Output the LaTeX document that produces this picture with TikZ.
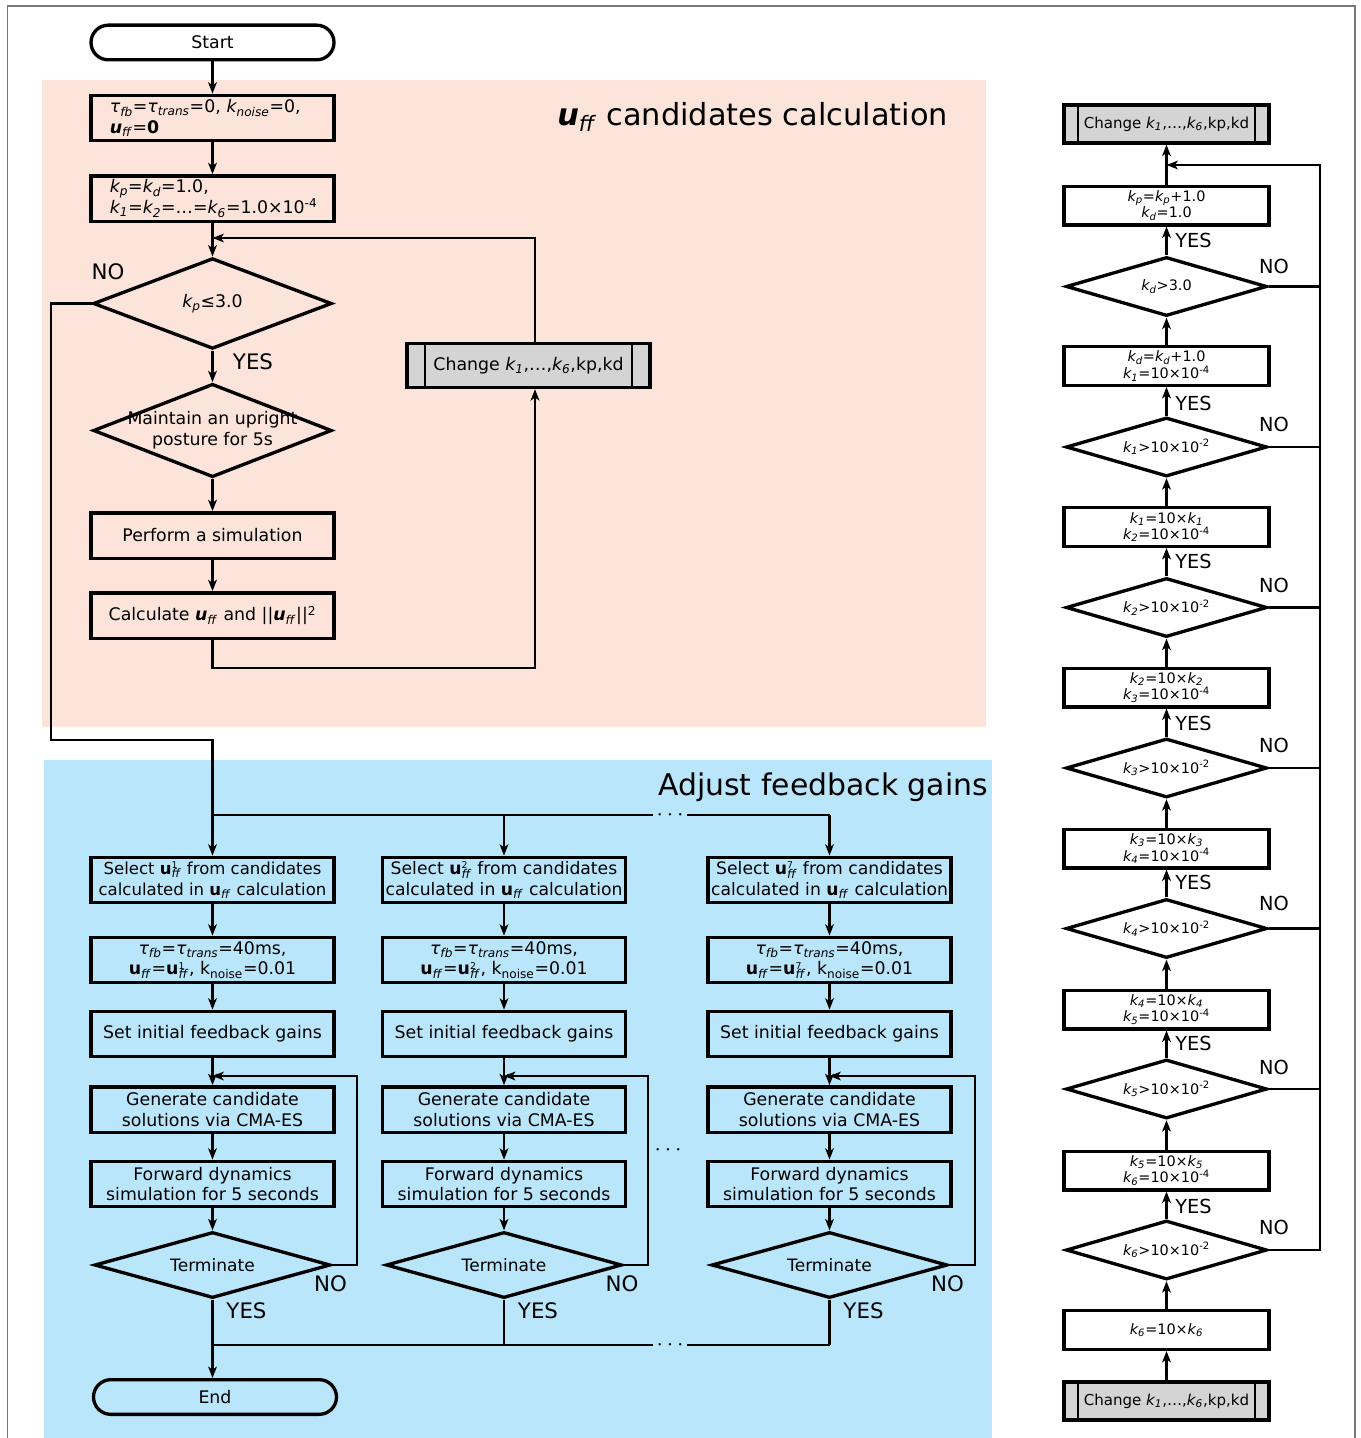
\documentclass[tikz,border=0pt]{standalone}
\usepackage{fontspec}
\setmainfont{DejaVu Sans}
\usetikzlibrary{shapes.geometric,arrows.meta}
\definecolor{pinkbg}{RGB}{252,228,218}
\definecolor{bluebg}{RGB}{186,230,251}
\definecolor{grayfill}{RGB}{212,212,212}
\definecolor{framegray}{RGB}{120,120,120}
\newcommand\kv[1]{\textit{k\textsubscript{#1}}}
\newcommand\tfb{\textit{τ\textsubscript{fb}}}
\newcommand\ttrans{\textit{τ\textsubscript{trans}}}
\newcommand\uffbi{\textbf{\textit{u}}\textsubscript{\textit{ff}}}
\newcommand\uffb{\textbf{u}\textsubscript{\textit{ff}}}
\newcommand\uffn[1]{\textbf{u}\rlap{\textsuperscript{\scriptsize #1}}\textsubscript{\textit{ff}}}
\begin{document}
\begin{tikzpicture}[x=0.75pt,y=-0.75pt,
  every node/.style={font=\fontsize{13}{15.5}\selectfont},
  box/.style={draw, line width=2.5pt, minimum width=182.25pt, minimum height=34pt, inner sep=1pt, align=center},
  pill/.style={draw, line width=2.5pt, rounded corners=13pt, minimum width=182.25pt, minimum height=26pt},
  dia/.style={draw, diamond, line width=2.5pt, inner sep=0pt, aspect=2.6, minimum width=179pt, minimum height=68pt},
  tdia/.style={draw, diamond, line width=2.5pt, inner sep=0pt, aspect=3.6, minimum width=177pt, minimum height=49.5pt, font=\fontsize{12.8}{14}\selectfont},
  proc/.style={draw, line width=2.5pt, fill=grayfill, minimum width=182.25pt, minimum height=33pt,
    path picture={\draw[line width=2.2pt] ([xshift=#1]path picture bounding box.north west) -- ([xshift=#1]path picture bounding box.south west)
      ([xshift=-#1]path picture bounding box.north east) -- ([xshift=-#1]path picture bounding box.south east);}},
  rbox/.style={draw, line width=2.5pt, minimum width=153.75pt, minimum height=29pt, inner sep=1pt, align=center, font=\fontsize{10.8}{11}\selectfont},
  rdia/.style={draw, diamond, line width=2.5pt, inner sep=0pt, aspect=3.4, minimum width=150.75pt, minimum height=44.25pt, font=\fontsize{10.8}{12}\selectfont},
  conn/.style={line width=1.6pt},
  arr/.style={conn, -{Stealth[length=8.5pt,width=6.5pt,inset=2.2pt]}},
  yn/.style={font=\fontsize{16}{18}\selectfont, inner sep=0pt},
  ryn/.style={font=\fontsize{14.5}{16}\selectfont, inner sep=0pt},
  dots/.style={font=\fontsize{16}{18}\selectfont, inner xsep=3pt, inner ysep=0pt},
  title/.style={font=\fontsize{22.8}{26}\selectfont, inner sep=0pt, anchor=west}
]
\useasboundingbox (0,0) rectangle (1360,1438);
% backgrounds and frame
\fill[pinkbg] (42,80) rectangle (986,727);
\fill[bluebg] (44,760) rectangle (992,1450);
\draw[framegray, line width=1pt] (7.5,1450) -- (7.5,6) -- (1355,6) -- (1355,1450);

\node[title] (ttl1) at (557,117) {\uffbi{} candidates calculation};
\node[title, font=\fontsize{22.4}{26}\selectfont] (ttl2) at (658,787) {Adjust feedback gains};

% ---------- top section ----------
\node[pill] (start) at (212.5,42.5) {Start};
\node[box, text width=154pt, align=left, inner xsep=14pt] (b1) at (212.5,118) {\tfb=\ttrans=0, \kv{noise}=0,\\\uffbi=\textbf{0}};
\node[box, text width=154pt, align=left, inner xsep=14pt] (b2) at (212.5,198.5) {\kv{p}=\kv{d}=1.0,\\\kv{1}=\kv{2}=…=\kv{6}=1.0×10\textsuperscript{-4}};
\node[dia] (d1) at (212.5,303.5) {\kv{p}≤3.0};
\node[dia, minimum height=70pt, label={[name=d2t, align=center]center:Maintain an upright\\posture for 5s}] (d2) at (212.5,430.5) {};
\node[box] (b3) at (212.5,535.5) {Perform a simulation};
\node[box] (b4) at (212.5,615.5) {Calculate \uffbi{} and ||\uffbi||\textsuperscript{2}};
\node[proc=13.5pt] (chg) at (528.5,365.5) {Change \kv{1},…,\kv{6},kp,kd};
\node[yn] (no0) at (108,272) {NO};
\node[yn] (yes0) at (253,362) {YES};

\coordinate (lpb) at (535,668);
\coordinate (j1) at (212.5,238);
\coordinate (n1) at (51,740);
\coordinate (ytop) at (0,815);
\coordinate (ybot) at (0,1345);

\draw[arr] (start) -- (b1);
\draw[arr] (b1) -- (b2);
\draw[arr] (b2) -- (d1);
\draw[arr] (d1) -- (d2);
\draw[arr] (d2) -- (b3);
\draw[arr] (b3) -- (b4);
\draw[arr] (b4.south) |- (lpb) -- (chg.south -| lpb);
\draw[arr] (chg.north -| lpb) |- (j1);

% ---------- bottom section ----------
\foreach \i/\x/\lx/\n/\fs in {1/212.5/357/1/12.4, 2/504/648/2/12.9, 3/829.5/975/7/12.9}{
  \node[box, font=\fontsize{\fs}{15.5}\selectfont] (s\i) at (\x,880) {Select \uffn{\n} from candidates\\calculated in \uffb{} calculation};
  \node[box] (t\i) at (\x,960) {\tfb=\ttrans=40ms,\\\uffb=\uffn{\n}, k\textsubscript{noise}=0.01};
  \node[box] (g\i) at (\x,1034) {Set initial feedback gains};
  \node[box] (c\i) at (\x,1109.5) {Generate candidate\\solutions via CMA-ES};
  \node[box] (f\i) at (\x,1184) {Forward dynamics\\simulation for 5 seconds};
  \node[tdia] (e\i) at (\x,1265) {Terminate};
  \coordinate (lx\i) at (\lx,1076);
  \draw[arr] (s\i) -- (t\i);
  \draw[arr] (t\i) -- (g\i);
  \draw[arr] (g\i) -- (c\i);
  \draw[arr] (c\i) -- (f\i);
  \draw[arr] (f\i) -- (e\i);
  \draw[arr] (e\i.east) -| (lx\i) -- (c\i.north |- lx\i);
  \node[yn] (no\i) at (\x+118,1284) {NO};
  \node[yn] (yes\i) at (\x+34,1311) {YES};
}
\node[pill] (end) at (215,1397) {End};

\draw[arr] (d1.west) -| (n1) -| (s1.north);
\draw[conn] (s1.north |- ytop) -- (s3.north |- ytop);
\draw[arr] (s2.north |- ytop) -- (s2);
\draw[arr] (s3.north |- ytop) -- (s3);
\node[dots, fill=bluebg] (dt1) at (670,815) {$\cdots$};

\draw[arr] (e1.south) -- (e1.south |- end.north);
\draw[conn] (e1.south |- ybot) -- (e3.south |- ybot);
\draw[conn] (e2.south) -- (e2.south |- ybot);
\draw[conn] (e3.south) -- (e3.south |- ybot);
\node[dots, fill=bluebg] (dt2) at (670,1345) {$\cdots$};
\node[dots] (dt3) at (668,1150) {$\cdots$};

% ---------- right column ----------
\node[proc=10.5pt, minimum width=153.75pt, minimum height=28.5pt, font=\fontsize{11.3}{13}\selectfont] (chgT) at (1166.5,124) {Change \kv{1},…,\kv{6},kp,kd};
\node[rbox] (rb1) at (1166.5,205.5) {\kv{p}=\kv{p}+1.0\\\kv{d}=1.0};
\node[rdia] (rd1) at (1166.5,286.5) {\kv{d}>3.0};
\node[rbox] (rb2) at (1166.5,366) {\kv{d}=\kv{d}+1.0\\\kv{1}=10×10\textsuperscript{-4}};
\node[rdia] (rd2) at (1166.5,447) {\kv{1}>10×10\textsuperscript{-2}};
\node[rbox] (rb3) at (1166.5,527) {\kv{1}=10×\kv{1}\\\kv{2}=10×10\textsuperscript{-4}};
\node[rdia] (rd3) at (1166.5,607.5) {\kv{2}>10×10\textsuperscript{-2}};
\node[rbox] (rb4) at (1166.5,687.5) {\kv{2}=10×\kv{2}\\\kv{3}=10×10\textsuperscript{-4}};
\node[rdia] (rd4) at (1166.5,768) {\kv{3}>10×10\textsuperscript{-2}};
\node[rbox] (rb5) at (1166.5,848.5) {\kv{3}=10×\kv{3}\\\kv{4}=10×10\textsuperscript{-4}};
\node[rdia] (rd5) at (1166.5,928.5) {\kv{4}>10×10\textsuperscript{-2}};
\node[rbox] (rb6) at (1166.5,1009.5) {\kv{4}=10×\kv{4}\\\kv{5}=10×10\textsuperscript{-4}};
\node[rdia] (rd6) at (1166.5,1089) {\kv{5}>10×10\textsuperscript{-2}};
\node[rbox] (rb7) at (1166.5,1170.5) {\kv{5}=10×\kv{5}\\\kv{6}=10×10\textsuperscript{-4}};
\node[rdia] (rd7) at (1166.5,1250) {\kv{6}>10×10\textsuperscript{-2}};
\node[rbox] (rb8) at (1166.5,1330) {\kv{6}=10×\kv{6}};
\node[proc=10.5pt, minimum width=153.75pt, minimum height=28.5pt, font=\fontsize{11.3}{13}\selectfont] (chgB) at (1166.5,1401) {Change \kv{1},…,\kv{6},kp,kd};

\coordinate (rtop) at (1320,165);
\coordinate (rj) at (1166.5,165);
\draw[arr] (chgB) -- (rb8);
\draw[arr] (rb8) -- (rd7);
\draw[arr] (rd7) -- (rb7);
\draw[arr] (rb7) -- (rd6);
\draw[arr] (rd6) -- (rb6);
\draw[arr] (rb6) -- (rd5);
\draw[arr] (rd5) -- (rb5);
\draw[arr] (rb5) -- (rd4);
\draw[arr] (rd4) -- (rb4);
\draw[arr] (rb4) -- (rd3);
\draw[arr] (rd3) -- (rb3);
\draw[arr] (rb3) -- (rd2);
\draw[arr] (rd2) -- (rb2);
\draw[arr] (rb2) -- (rd1);
\draw[arr] (rd1) -- (rb1);
\draw[arr] (rb1) -- (chgT);
\draw[arr] (rd7.east) -| (rtop) -- (rj);
\foreach \k in {1,...,6}{ \draw[conn] (rd\k.east) -- (rd\k.east -| rtop); }

\foreach \k/\yy/\ny in {1/240/266, 2/403/424, 3/561/585, 4/723/745, 5/882/903, 6/1043/1067, 7/1206/1227}{
  \node[ryn, anchor=west] (ryes\k) at (1175,\yy) {YES};
  \node[ryn] (rno\k) at (1274,\ny) {NO};
}
\end{tikzpicture}
\end{document}
